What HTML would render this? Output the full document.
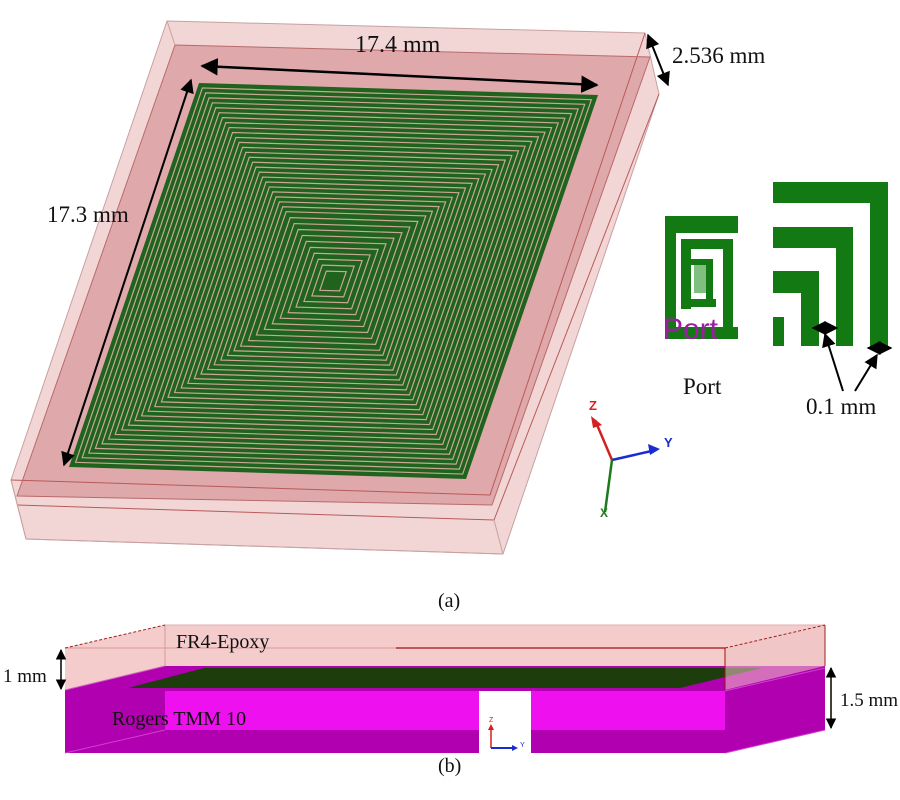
<!DOCTYPE html>
<html><head><meta charset="utf-8"><style>
html,body{margin:0;padding:0;background:#fff;width:900px;height:800px;overflow:hidden}
svg{display:block}
text{font-family:"Liberation Serif",serif;fill:#111}
</style></head><body>
<svg width="900" height="800" viewBox="0 0 900 800" xmlns="http://www.w3.org/2000/svg">
<defs>
<marker id="ah" viewBox="0 0 10 10" refX="9" refY="5" markerWidth="7" markerHeight="7" orient="auto-start-reverse"><path d="M0,0 L10,5 L0,10 z" fill="#000"/></marker>
</defs>
<!-- (a) box -->
<polygon points="167,21 645,33 659,94 503,554 26,539 11,480" fill="#f2d6d6" stroke="#c9a0a0" stroke-width="1"/>
<polygon points="175,45 650,57 492,505 17,496" fill="#dfa8ab" stroke="#b86a6a" stroke-width="1"/>
<polyline points="11,480 490,495 645,33" fill="none" stroke="#b85a5a" stroke-width="1"/>
<polyline points="17,505 494,520 659,94" fill="none" stroke="#b85a5a" stroke-width="1"/>
<polyline points="26,539 503,554" fill="none" stroke="#c9a0a0" stroke-width="1"/>
<line x1="494" y1="520" x2="503" y2="554" stroke="#c9a0a0"/>
<line x1="11" y1="480" x2="26" y2="539" stroke="#c9a0a0"/>
<line x1="167" y1="21" x2="175" y2="45" stroke="#c9a0a0"/>
<!-- spiral -->
<polygon points="199,83 598,95 466,479 69,467" fill="#1f631f"/>
<g fill="none" stroke="#c8a894" stroke-width="1.2">
<polygon points="-134,-198 265,-186 133,198 -264,186" transform="translate(333,281) scale(0.975)" vector-effect="non-scaling-stroke"/>
<polygon points="-134,-198 265,-186 133,198 -264,186" transform="translate(333,281) scale(0.95)" vector-effect="non-scaling-stroke"/>
<polygon points="-134,-198 265,-186 133,198 -264,186" transform="translate(333,281) scale(0.925)" vector-effect="non-scaling-stroke"/>
<polygon points="-134,-198 265,-186 133,198 -264,186" transform="translate(333,281) scale(0.90)" vector-effect="non-scaling-stroke"/>
<polygon points="-134,-198 265,-186 133,198 -264,186" transform="translate(333,281) scale(0.875)" vector-effect="non-scaling-stroke"/>
<polygon points="-134,-198 265,-186 133,198 -264,186" transform="translate(333,281) scale(0.85)" vector-effect="non-scaling-stroke"/>
<polygon points="-134,-198 265,-186 133,198 -264,186" transform="translate(333,281) scale(0.825)" vector-effect="non-scaling-stroke"/>
<polygon points="-134,-198 265,-186 133,198 -264,186" transform="translate(333,281) scale(0.80)" vector-effect="non-scaling-stroke"/>
<polygon points="-134,-198 265,-186 133,198 -264,186" transform="translate(333,281) scale(0.775)" vector-effect="non-scaling-stroke"/>
<polygon points="-134,-198 265,-186 133,198 -264,186" transform="translate(333,281) scale(0.75)" vector-effect="non-scaling-stroke"/>
<polygon points="-134,-198 265,-186 133,198 -264,186" transform="translate(333,281) scale(0.725)" vector-effect="non-scaling-stroke"/>
<polygon points="-134,-198 265,-186 133,198 -264,186" transform="translate(333,281) scale(0.70)" vector-effect="non-scaling-stroke"/>
<polygon points="-134,-198 265,-186 133,198 -264,186" transform="translate(333,281) scale(0.675)" vector-effect="non-scaling-stroke"/>
<polygon points="-134,-198 265,-186 133,198 -264,186" transform="translate(333,281) scale(0.65)" vector-effect="non-scaling-stroke"/>
<polygon points="-134,-198 265,-186 133,198 -264,186" transform="translate(333,281) scale(0.625)" vector-effect="non-scaling-stroke"/>
<polygon points="-134,-198 265,-186 133,198 -264,186" transform="translate(333,281) scale(0.60)" vector-effect="non-scaling-stroke"/>
<polygon points="-134,-198 265,-186 133,198 -264,186" transform="translate(333,281) scale(0.575)" vector-effect="non-scaling-stroke"/>
<polygon points="-134,-198 265,-186 133,198 -264,186" transform="translate(333,281) scale(0.55)" vector-effect="non-scaling-stroke"/>
<polygon points="-134,-198 265,-186 133,198 -264,186" transform="translate(333,281) scale(0.525)" vector-effect="non-scaling-stroke"/>
<polygon points="-134,-198 265,-186 133,198 -264,186" transform="translate(333,281) scale(0.50)" vector-effect="non-scaling-stroke"/>
<polygon points="-134,-198 265,-186 133,198 -264,186" transform="translate(333,281) scale(0.475)" vector-effect="non-scaling-stroke"/>
<polygon points="-134,-198 265,-186 133,198 -264,186" transform="translate(333,281) scale(0.45)" vector-effect="non-scaling-stroke"/>
<polygon points="-134,-198 265,-186 133,198 -264,186" transform="translate(333,281) scale(0.425)" vector-effect="non-scaling-stroke"/>
<polygon points="-134,-198 265,-186 133,198 -264,186" transform="translate(333,281) scale(0.40)" vector-effect="non-scaling-stroke"/>
<polygon points="-134,-198 265,-186 133,198 -264,186" transform="translate(333,281) scale(0.375)" vector-effect="non-scaling-stroke"/>
<polygon points="-134,-198 265,-186 133,198 -264,186" transform="translate(333,281) scale(0.35)" vector-effect="non-scaling-stroke"/>
<polygon points="-134,-198 265,-186 133,198 -264,186" transform="translate(333,281) scale(0.32)" vector-effect="non-scaling-stroke"/>
<polygon points="-134,-198 265,-186 133,198 -264,186" transform="translate(333,281) scale(0.29)" vector-effect="non-scaling-stroke"/>
<polygon points="-134,-198 265,-186 133,198 -264,186" transform="translate(333,281) scale(0.26)" vector-effect="non-scaling-stroke"/>
<polygon points="-134,-198 265,-186 133,198 -264,186" transform="translate(333,281) scale(0.23)" vector-effect="non-scaling-stroke"/>
<polygon points="-134,-198 265,-186 133,198 -264,186" transform="translate(333,281) scale(0.20)" vector-effect="non-scaling-stroke"/>
<polygon points="-134,-198 265,-186 133,198 -264,186" transform="translate(333,281) scale(0.17)" vector-effect="non-scaling-stroke"/>
<polygon points="-134,-198 265,-186 133,198 -264,186" transform="translate(333,281) scale(0.14)" vector-effect="non-scaling-stroke"/>
<polygon points="-134,-198 265,-186 133,198 -264,186" transform="translate(333,281) scale(0.11)" vector-effect="non-scaling-stroke"/>
<polygon points="-134,-198 265,-186 133,198 -264,186" transform="translate(333,281) scale(0.08)" vector-effect="non-scaling-stroke"/>
<polygon points="-134,-198 265,-186 133,198 -264,186" transform="translate(333,281) scale(0.05)" vector-effect="non-scaling-stroke"/>
</g>
<!-- dimension arrows -->
<line x1="202" y1="66" x2="597" y2="85" stroke="#000" stroke-width="2.5" marker-start="url(#ah)" marker-end="url(#ah)"/>
<line x1="191" y1="80" x2="64" y2="465" stroke="#000" stroke-width="2" marker-start="url(#ah)" marker-end="url(#ah)"/>
<line x1="648" y1="35" x2="668" y2="85" stroke="#000" stroke-width="2" marker-start="url(#ah)" marker-end="url(#ah)"/>
<text x="355" y="52" font-size="24">17.4 mm</text>
<text x="47" y="222" font-size="23">17.3 mm</text>
<text x="672" y="63" font-size="23">2.536 mm</text>
<!-- port inset -->
<g fill="#137a13">
<rect x="665" y="216" width="73" height="17"/>
<rect x="665" y="216" width="11" height="123"/>
<rect x="665" y="327" width="73" height="12"/>
<rect x="681" y="239" width="52" height="10"/>
<rect x="723" y="239" width="10" height="88"/>
<rect x="681" y="239" width="10" height="70"/>
<rect x="681" y="299" width="35" height="8"/>
<rect x="706" y="259" width="7" height="43"/>
<rect x="691" y="259" width="22" height="6"/>
</g>
<rect x="694" y="265" width="12" height="28" fill="#7fbf7f"/>
<text x="663" y="339" font-size="30" style="fill:#9a1fa0;font-family:'Liberation Sans',sans-serif">Port</text>
<rect x="660" y="339" width="82" height="8" fill="#fff"/>
<text x="683" y="394" font-size="23">Port</text>
<!-- corner inset -->
<g fill="#137a13">
<rect x="773" y="182" width="115" height="21"/>
<rect x="870" y="182" width="18" height="164"/>
<rect x="773" y="227" width="80" height="21"/>
<rect x="836" y="227" width="17" height="119"/>
<rect x="773" y="271" width="46" height="22"/>
<rect x="801" y="271" width="18" height="75"/>
<rect x="773" y="317" width="11" height="29"/>
</g>
<line x1="813" y1="328" x2="837" y2="328" stroke="#000" stroke-width="2" marker-start="url(#ah)" marker-end="url(#ah)"/>
<line x1="868" y1="348" x2="891" y2="348" stroke="#000" stroke-width="2" marker-start="url(#ah)" marker-end="url(#ah)"/>
<line x1="843" y1="391" x2="825" y2="334" stroke="#000" stroke-width="2" marker-end="url(#ah)"/>
<line x1="855" y1="391" x2="877" y2="355" stroke="#000" stroke-width="2" marker-end="url(#ah)"/>
<text x="806" y="414" font-size="23">0.1 mm</text>
<!-- axes -->
<g stroke-width="2.5">
<line x1="612" y1="460" x2="595" y2="420" stroke="#d42020"/>
<line x1="612" y1="460" x2="656" y2="450" stroke="#1a2bd0"/>
<line x1="612" y1="460" x2="605" y2="512" stroke="#1c7a1c"/>
</g>
<polygon points="591,416 602,425 593,428" fill="#d42020"/>
<polygon points="660,449 648,444 650,455" fill="#1a2bd0"/>
<text x="589" y="410" font-size="13" style="fill:#e02020;font-family:'Liberation Sans',sans-serif;font-weight:bold">Z</text>
<text x="664" y="447" font-size="13" style="fill:#1a2bd0;font-family:'Liberation Sans',sans-serif;font-weight:bold">Y</text>
<text x="600" y="517" font-size="12" style="fill:#1c7a1c;font-family:'Liberation Sans',sans-serif;font-weight:bold">X</text>
<text x="438" y="607" font-size="20">(a)</text>
<!-- (b) -->
<polygon points="65,690 165,666 825,666 825,730 725,753 65,753" fill="#b000b0"/>
<polygon points="165,691 725,691 725,730 165,730" fill="#ee10ee"/>
<polygon points="65,753 165,730 725,730 725,753" fill="#b000b0"/>
<line x1="65" y1="753" x2="165" y2="730" stroke="#d040d0" stroke-width="1"/>
<line x1="725" y1="691" x2="825" y2="668" stroke="#d040d0" stroke-width="1"/>
<line x1="725" y1="753" x2="825" y2="730" stroke="#d040d0" stroke-width="1"/>
<polygon points="128,688 204,668 762,668 680,688" fill="#1d3d0d"/>
<polygon points="65,648 165,625 825,625 825,666 165,666 65,690" fill="#f4cccc"/>
<polygon points="725,648 825,625 825,666 725,690" fill="#f0c6c6" fill-opacity="0.55"/>
<polygon points="725,648 825,625 825,666 725,666" fill="#f0c6c6"/>
<polyline points="65,648 725,648" fill="none" stroke="#d89a9a" stroke-width="1"/>
<line x1="165" y1="625" x2="165" y2="666" stroke="#d89a9a"/>
<line x1="65" y1="690" x2="165" y2="666" stroke="#d060c0"/>
<line x1="396" y1="648" x2="725" y2="648" stroke="#a01010" stroke-width="1.3"/>
<line x1="725" y1="648" x2="725" y2="690" stroke="#a01010" stroke-width="1"/>
<line x1="165" y1="625" x2="825" y2="625" stroke="#e0b0b0"/>
<line x1="825" y1="625" x2="825" y2="666" stroke="#a02020"/>
<polyline points="65,648 165,625" fill="none" stroke="#a02020" stroke-width="1" stroke-dasharray="3,2"/>
<polyline points="725,648 825,625" fill="none" stroke="#a02020" stroke-width="1" stroke-dasharray="3,2"/>
<rect x="479" y="691" width="52" height="62" fill="#fff"/>
<line x1="491" y1="748" x2="491" y2="728" stroke="#d42020" stroke-width="1.5"/>
<polygon points="488,730 494,730 491,724" fill="#d42020"/>
<line x1="491" y1="748" x2="513" y2="748" stroke="#1a2bd0" stroke-width="2"/>
<polygon points="512,745 512,751 518,748" fill="#1a2bd0"/>
<text x="489" y="722" font-size="7" style="fill:#d42020;font-family:'Liberation Sans',sans-serif">Z</text>
<text x="520" y="747" font-size="7" style="fill:#1a2bd0;font-family:'Liberation Sans',sans-serif">Y</text>
<text x="176" y="648" font-size="20">FR4-Epoxy</text>
<text x="112" y="725" font-size="20">Rogers TMM 10</text>
<line x1="61" y1="650" x2="61" y2="689" stroke="#000" stroke-width="1.5" marker-start="url(#ah)" marker-end="url(#ah)"/>
<text x="3" y="682" font-size="19">1 mm</text>
<line x1="831" y1="668" x2="831" y2="728" stroke="#000" stroke-width="1.5" marker-start="url(#ah)" marker-end="url(#ah)"/>
<text x="840" y="706" font-size="19">1.5 mm</text>
<text x="438" y="772" font-size="20">(b)</text>
</svg>
</body></html>
